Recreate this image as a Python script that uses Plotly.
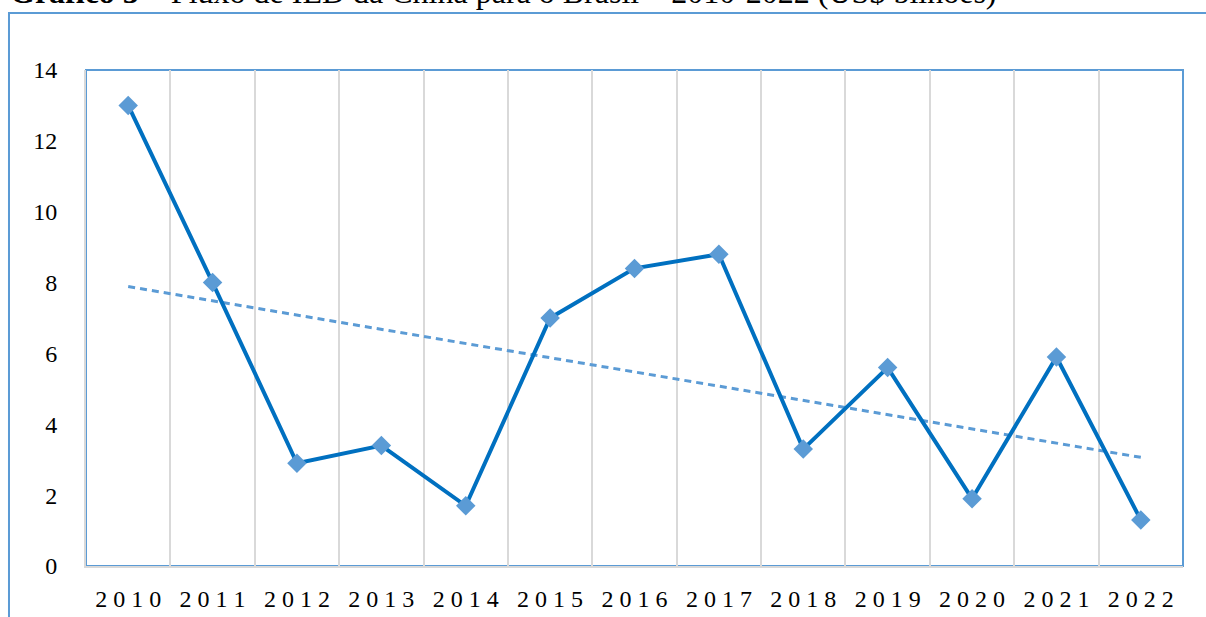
import numpy as np
import plotly.graph_objects as go

years = ['2010', '2011', '2012', '2013', '2014', '2015', '2016',
         '2017', '2018', '2019', '2020', '2021', '2022']
ied = [13.0, 8.0, 2.9, 3.4, 1.7, 7.0, 8.4, 8.8, 3.3, 5.6, 1.9, 5.9, 1.3]
y_ticks = [0, 2, 4, 6, 8, 10, 12, 14]

# spaced-out year labels, as in the original
year_labels = [' '.join(y) for y in years]

# linear trend line (least squares over the series)
idx = np.arange(len(ied))
slope, intercept = np.polyfit(idx, ied, 1)
trend = slope * idx + intercept

fig = go.Figure()
fig.add_trace(go.Scatter(
    x=years, y=trend, mode='lines',
    line=dict(color='#5b9bd5', width=3, dash='7px,5px'),
    hoverinfo='skip'
))
fig.add_trace(go.Scatter(
    x=years, y=ied, mode='lines+markers',
    line=dict(color='#0070c0', width=4),
    marker=dict(symbol='diamond', size=15, color='#5b9bd5'),
))

serif = 'Liberation Serif'

fig.update_layout(
    width=1206, height=617,
    margin=dict(l=86, r=23, t=70, b=51),
    paper_bgcolor='white', plot_bgcolor='white',
    showlegend=False,
    font=dict(family=serif, size=24, color='black'),
    xaxis=dict(
        type='category', tickson='boundaries',
        tickvals=years, ticktext=year_labels,
        showgrid=True, gridcolor='#d9d9d9', gridwidth=2,
        showline=True, linecolor='#d9d9d9', linewidth=2,
        ticks='', ticklabelstandoff=10, automargin=False,
        range=[-0.5, len(years) - 0.5],
    ),
    yaxis=dict(
        range=[0, 14], tickvals=y_ticks,
        showgrid=False, zeroline=False,
        showline=True, linecolor='#d9d9d9', linewidth=2,
        ticks='', ticklabelstandoff=22, automargin=False,
    ),
    shapes=[
        # plot area border (blue, top/right visible)
        dict(type='rect', xref='paper', yref='paper', x0=0, x1=1, y0=0, y1=1,
             line=dict(color='#5b9bd5', width=2), layer='below'),
        # outer chart frame
        dict(type='rect', xref='paper', yref='paper',
             x0=-0.0702, x1=1.05, y0=-0.2, y1=1.1149,
             line=dict(color='#5b9bd5', width=2), layer='below'),
    ],
    annotations=[
        dict(xref='paper', yref='paper', x=-0.0715, y=1.117,
             xanchor='left', yanchor='bottom', showarrow=False,
             text='<b>Gráfico 3</b> – Fluxo de IED da China para o Brasil – 2010-2022 (US$ bilhões)',
             font=dict(family=serif, size=32, color='black')),
    ],
)

fig.write_html('out.html', config={'displayModeBar': False},
               post_script="document.body.style.margin='0';")
